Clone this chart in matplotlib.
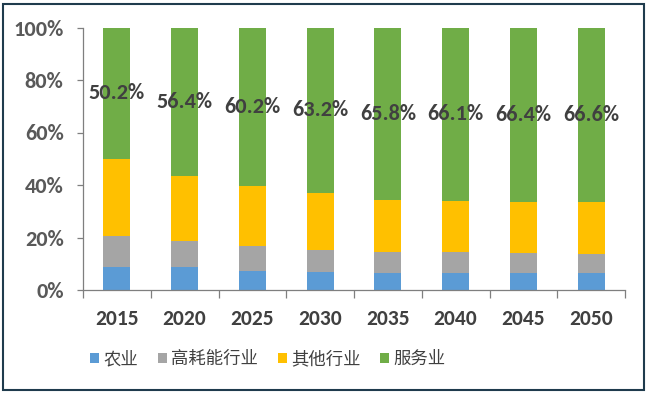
import matplotlib
matplotlib.use("Agg")
import matplotlib.pyplot as plt
from matplotlib.patches import Rectangle
from matplotlib.ticker import FixedLocator, PercentFormatter
import numpy as np

years = ["2015", "2020", "2025", "2030", "2035", "2040", "2045", "2050"]
agriculture = [8.9, 8.6, 7.4, 7.0, 6.6, 6.6, 6.6, 6.6]
high_energy = [11.7, 10.1, 9.4, 8.2, 7.7, 7.7, 7.4, 7.1]
services = [50.2, 56.4, 60.2, 63.2, 65.8, 66.1, 66.4, 66.6]
other = [round(100 - a - h - s, 1) for a, h, s in zip(agriculture, high_energy, services)]
series_names = ["农业", "高耗能行业", "其他行业", "服务业"]
colors = ["#5B9BD5", "#A5A5A5", "#FFC000", "#70AD47"]

num_font = ["Carlito", "DejaVu Sans"]
cjk_font = ["Noto Sans CJK SC", "DejaVu Sans"]

fig = plt.figure(figsize=(6.49, 3.94), dpi=100)
ax = fig.add_axes([83 / 649, 1 - 290 / 394, (625 - 83) / 649, (290 - 27.5) / 394])

x = np.arange(len(years))
w = 0.4
bottom = np.zeros(len(years))
handles = []
for vals, name, c in zip([agriculture, high_energy, other, services], series_names, colors):
    b = ax.bar(x, vals, w, bottom=bottom, color=c, label=name, linewidth=0)
    handles.append(b)
    bottom = bottom + np.array(vals)

# labels centered in services segment
for i, s in enumerate(services):
    ax.text(x[i], 100 - s / 2, f"{s:.1f}%", ha="center", va="center",
            fontsize=16, fontweight="bold", color="#404040", family=num_font)

ax.set_xlim(-0.5, len(years) - 0.5)
ax.set_ylim(0, 100)
ax.yaxis.set_major_locator(FixedLocator([0, 20, 40, 60, 80, 100]))
ax.yaxis.set_major_formatter(PercentFormatter(decimals=0))
ax.set_xticks(x)
ax.set_xticklabels(years)
ax.set_xticks(np.arange(-0.5, len(years)), minor=True)
ax.tick_params(axis="x", which="major", length=0, pad=14)
ax.tick_params(axis="x", which="minor", length=6, width=0.9, color="#7f7f7f", direction="out")
ax.tick_params(axis="y", which="major", length=4, width=0.9, color="#7f7f7f", pad=10)
for lab in ax.get_xticklabels():
    lab.set_family(num_font)
    lab.set_fontsize(15.5)
    lab.set_fontweight("bold")
    lab.set_color("#404040")
for lab in ax.get_yticklabels():
    lab.set_family(num_font)
    lab.set_fontsize(16)
    lab.set_fontweight("bold")
    lab.set_color("#595959")

for side in ["top", "right"]:
    ax.spines[side].set_visible(False)
for side in ["left", "bottom"]:
    ax.spines[side].set_color("#7f7f7f")
    ax.spines[side].set_linewidth(0.9)

leg = fig.legend(handles=handles, labels=series_names, loc="center",
                 bbox_to_anchor=(268 / 649, 1 - 359 / 394), ncol=4, frameon=False,
                 prop={"family": cjk_font, "size": 12.5}, handlelength=0.5, handleheight=0.5,
                 handletextpad=0.25, columnspacing=1.15)
for t in leg.get_texts():
    t.set_color("#404040")

# outer frame
fig.patches.append(Rectangle((3 / 649, 1 - 390 / 394), 641 / 649, 386 / 394,
                             transform=fig.transFigure, fill=False,
                             edgecolor="#1f3b4d", linewidth=1.5))

fig.savefig("out.png", dpi=100)
